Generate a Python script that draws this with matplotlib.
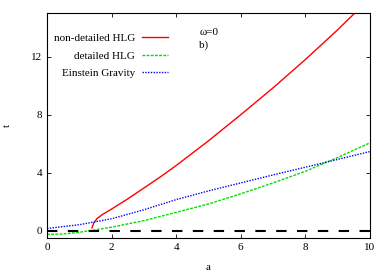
import matplotlib
matplotlib.use("Agg")
import matplotlib.pyplot as plt

plt.rcParams["font.family"] = ["Liberation Serif", "DejaVu Serif"]
plt.rcParams["font.size"] = 8

# curves
a_nd = [1.39, 1.45, 1.55, 1.7, 2.0, 2.5, 3.0, 3.5, 4.0, 4.5, 5.0, 6.0, 7.0, 8.0, 9.0, 9.53]
t_nd = [0.2, 0.55, 0.85, 1.1, 1.5, 2.2, 2.95, 3.7, 4.5, 5.35, 6.2, 8.0, 9.85, 11.8, 13.85, 15.0]

a_d = [0, 0.5, 1, 1.5, 2, 3, 4, 5, 6, 7, 8, 9, 10]
t_d = [-0.25, -0.22, -0.1, 0.07, 0.25, 0.7, 1.27, 1.85, 2.55, 3.3, 4.1, 5.05, 6.06]

a_e = [0, 1, 2, 3, 4, 5, 6, 7, 8, 9, 10]
t_e = [0.16, 0.42, 0.83, 1.45, 2.15, 2.75, 3.3, 3.85, 4.38, 4.92, 5.46]

fig, ax = plt.subplots(figsize=(3.89, 2.73), dpi=100)
fig.subplots_adjust(left=0.121, right=0.951, top=0.952, bottom=0.128)

ax.plot(a_nd, t_nd, color="red", lw=1.0, label="non-detailed HLG")
ax.plot(a_d, t_d, color="#00dd00", lw=1.0, ls=(0, (2, 1)), label="detailed HLG")
ax.plot(a_e, t_e, color="blue", lw=1.0, ls=(0, (1, 1)), label="Einstein Gravity")
ax.axhline(0, color="black", lw=1.5, ls=(0, (5, 5)))

ax.text(4.72, 13.5, "ω=0", fontsize=8)
ax.text(4.72, 12.6, "b)", fontsize=8)

ax.set_xlim(0, 10)
ax.set_ylim(-0.5, 15)
ax.set_xticks([0, 2, 4, 6, 8, 10])
ax.set_yticks([0, 4, 8, 12])
ax.tick_params(direction="in", top=True, right=True, length=3, width=0.6)
ax.set_xlabel("a", labelpad=8)
ax.set_ylabel("t", labelpad=14)
for s in ax.spines.values():
    s.set_linewidth(0.8)

ax.legend(loc="upper left", frameon=False, markerfirst=False,
          handlelength=2.4, handletextpad=0.6, bbox_to_anchor=(-0.01, 0.955),
          labelspacing=0.7)

fig.savefig("out.png", dpi=100)
